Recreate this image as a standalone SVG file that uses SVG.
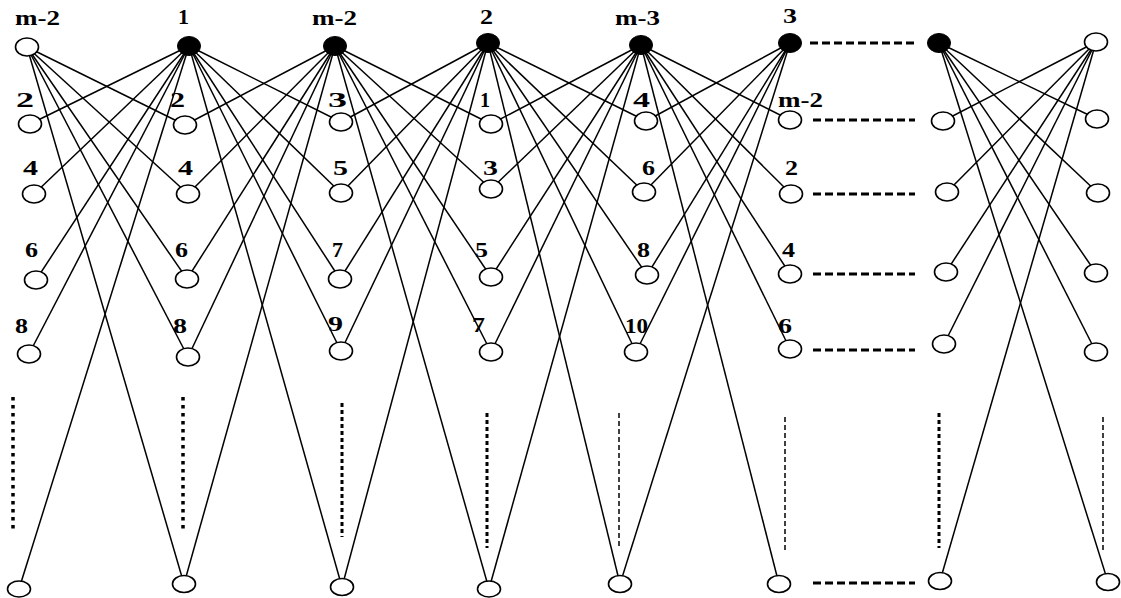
<svg xmlns="http://www.w3.org/2000/svg" width="1121" height="598" viewBox="0 0 1121 598">
<style>
.e{stroke:#000;stroke-width:1.5;fill:none}
.o{fill:#fff;stroke:#000;stroke-width:1.6}
.b{fill:#000;stroke:#000;stroke-width:1}
.l{font-family:"Liberation Serif","Times New Roman",serif;font-weight:bold;font-size:20px;fill:#000}
.hd{stroke:#000;stroke-width:3;stroke-dasharray:8 4;fill:none}
.vd{stroke:#000;stroke-width:3.5;stroke-dasharray:3.5 4.5;fill:none}
.vt{stroke:#000;stroke-width:3;stroke-dasharray:4 3;fill:none}
.vs{stroke:#000;stroke-width:1.5;stroke-dasharray:5 3;fill:none}
</style>
<rect width="1121" height="598" fill="#fff"/>
<g id="connectors">
<line class="e" x1="27" y1="47" x2="185" y2="125"/>
<line class="e" x1="27" y1="47" x2="188" y2="194"/>
<line class="e" x1="27" y1="47" x2="187" y2="279"/>
<line class="e" x1="27" y1="47" x2="188" y2="357"/>
<line class="e" x1="27" y1="47" x2="184" y2="584"/>
<line class="e" x1="189" y1="46" x2="30" y2="124"/>
<line class="e" x1="189" y1="46" x2="34" y2="194"/>
<line class="e" x1="189" y1="46" x2="36" y2="280"/>
<line class="e" x1="189" y1="46" x2="29" y2="354"/>
<line class="e" x1="189" y1="46" x2="19" y2="589"/>
<line class="e" x1="189" y1="46" x2="341" y2="122"/>
<line class="e" x1="189" y1="46" x2="341" y2="193"/>
<line class="e" x1="189" y1="46" x2="340" y2="279"/>
<line class="e" x1="189" y1="46" x2="341" y2="351"/>
<line class="e" x1="189" y1="46" x2="342" y2="587"/>
<line class="e" x1="335" y1="46" x2="185" y2="125"/>
<line class="e" x1="335" y1="46" x2="188" y2="194"/>
<line class="e" x1="335" y1="46" x2="187" y2="279"/>
<line class="e" x1="335" y1="46" x2="188" y2="357"/>
<line class="e" x1="335" y1="46" x2="184" y2="584"/>
<line class="e" x1="335" y1="46" x2="491" y2="124"/>
<line class="e" x1="335" y1="46" x2="491" y2="189"/>
<line class="e" x1="335" y1="46" x2="491" y2="277"/>
<line class="e" x1="335" y1="46" x2="491" y2="352"/>
<line class="e" x1="335" y1="46" x2="489" y2="589"/>
<line class="e" x1="488" y1="43" x2="341" y2="122"/>
<line class="e" x1="488" y1="43" x2="341" y2="193"/>
<line class="e" x1="488" y1="43" x2="340" y2="279"/>
<line class="e" x1="488" y1="43" x2="341" y2="351"/>
<line class="e" x1="488" y1="43" x2="342" y2="587"/>
<line class="e" x1="488" y1="43" x2="646" y2="121"/>
<line class="e" x1="488" y1="43" x2="644" y2="192"/>
<line class="e" x1="488" y1="43" x2="647" y2="275"/>
<line class="e" x1="488" y1="43" x2="636" y2="352"/>
<line class="e" x1="488" y1="43" x2="620" y2="584"/>
<line class="e" x1="641" y1="45" x2="491" y2="124"/>
<line class="e" x1="641" y1="45" x2="491" y2="189"/>
<line class="e" x1="641" y1="45" x2="491" y2="277"/>
<line class="e" x1="641" y1="45" x2="491" y2="352"/>
<line class="e" x1="641" y1="45" x2="489" y2="589"/>
<line class="e" x1="641" y1="45" x2="790" y2="120"/>
<line class="e" x1="641" y1="45" x2="791" y2="194"/>
<line class="e" x1="641" y1="45" x2="790" y2="274"/>
<line class="e" x1="641" y1="45" x2="790" y2="349"/>
<line class="e" x1="641" y1="45" x2="779" y2="584"/>
<line class="e" x1="790" y1="43" x2="646" y2="121"/>
<line class="e" x1="790" y1="43" x2="644" y2="192"/>
<line class="e" x1="790" y1="43" x2="647" y2="275"/>
<line class="e" x1="790" y1="43" x2="636" y2="352"/>
<line class="e" x1="790" y1="43" x2="620" y2="584"/>
<line class="e" x1="939" y1="43" x2="1097" y2="119"/>
<line class="e" x1="939" y1="43" x2="1098" y2="193"/>
<line class="e" x1="939" y1="43" x2="1096" y2="273"/>
<line class="e" x1="939" y1="43" x2="1096" y2="352"/>
<line class="e" x1="939" y1="43" x2="1108" y2="582"/>
<line class="e" x1="1096" y1="42" x2="943" y2="121"/>
<line class="e" x1="1096" y1="42" x2="947" y2="192"/>
<line class="e" x1="1096" y1="42" x2="946" y2="272"/>
<line class="e" x1="1096" y1="42" x2="944" y2="344"/>
<line class="e" x1="1096" y1="42" x2="940" y2="581"/>
<line class="hd" x1="810" y1="43" x2="915" y2="43"/>
<line class="hd" x1="813" y1="120" x2="915" y2="120"/>
<line class="hd" x1="813" y1="194" x2="915" y2="194"/>
<line class="hd" x1="813" y1="274" x2="915" y2="274"/>
<line class="hd" x1="813" y1="350" x2="915" y2="350"/>
<line class="hd" x1="813" y1="583" x2="915" y2="583"/>
<line class="vd" x1="13" y1="397" x2="13" y2="530"/>
<line class="vd" x1="183" y1="397" x2="183" y2="530"/>
<line class="vt" x1="342" y1="403" x2="342" y2="537"/>
<line class="vt" x1="487" y1="413" x2="487" y2="548"/>
<line class="vs" x1="619" y1="413" x2="619" y2="548"/>
<line class="vs" x1="785" y1="417" x2="785" y2="553"/>
<line class="vt" x1="939" y1="413" x2="939" y2="548"/>
<line class="vs" x1="1103" y1="417" x2="1103" y2="553"/>
</g>
<g id="col0">
<g id="n0t"><ellipse class="o" cx="27" cy="47" rx="11.5" ry="9"/><text class="l" x="15" y="25" textLength="45" lengthAdjust="spacingAndGlyphs">m-2</text></g>
<g id="n0r1"><ellipse class="o" cx="30" cy="124" rx="11.5" ry="9"/><text class="l" x="16" y="107" textLength="18" lengthAdjust="spacingAndGlyphs">2</text></g>
<g id="n0r2"><ellipse class="o" cx="34" cy="194" rx="11.5" ry="9"/><text class="l" x="23" y="175" textLength="15" lengthAdjust="spacingAndGlyphs">4</text></g>
<g id="n0r3"><ellipse class="o" cx="36" cy="280" rx="11.5" ry="9"/><text class="l" x="25" y="257" textLength="13" lengthAdjust="spacingAndGlyphs">6</text></g>
<g id="n0r4"><ellipse class="o" cx="29" cy="354" rx="11.5" ry="9"/><text class="l" x="15" y="333" textLength="13" lengthAdjust="spacingAndGlyphs">8</text></g>
<g id="n0b"><ellipse class="o" cx="19" cy="589" rx="11.5" ry="8"/></g>
</g>
<g id="col1">
<g id="n1t"><ellipse class="b" cx="189" cy="46" rx="11.5" ry="9.5"/><text class="l" x="178" y="24" textLength="11" lengthAdjust="spacingAndGlyphs">1</text></g>
<g id="n1r1"><ellipse class="o" cx="185" cy="125" rx="11.5" ry="9"/><text class="l" x="170" y="107" textLength="15" lengthAdjust="spacingAndGlyphs">2</text></g>
<g id="n1r2"><ellipse class="o" cx="188" cy="194" rx="11.5" ry="9"/><text class="l" x="178" y="175" textLength="15" lengthAdjust="spacingAndGlyphs">4</text></g>
<g id="n1r3"><ellipse class="o" cx="187" cy="279" rx="11.5" ry="9"/><text class="l" x="175" y="257" textLength="13" lengthAdjust="spacingAndGlyphs">6</text></g>
<g id="n1r4"><ellipse class="o" cx="188" cy="357" rx="11.5" ry="9"/><text class="l" x="173" y="333" textLength="14" lengthAdjust="spacingAndGlyphs">8</text></g>
<g id="n1b"><ellipse class="o" cx="184" cy="584" rx="11.5" ry="8.5"/></g>
</g>
<g id="col2">
<g id="n2t"><ellipse class="b" cx="335" cy="46" rx="11.5" ry="9.5"/><text class="l" x="312" y="25" textLength="45" lengthAdjust="spacingAndGlyphs">m-2</text></g>
<g id="n2r1"><ellipse class="o" cx="341" cy="122" rx="11.5" ry="9"/><text class="l" x="328" y="107" textLength="19" lengthAdjust="spacingAndGlyphs">3</text></g>
<g id="n2r2"><ellipse class="o" cx="341" cy="193" rx="11.5" ry="9"/><text class="l" x="333" y="175" textLength="15" lengthAdjust="spacingAndGlyphs">5</text></g>
<g id="n2r3"><ellipse class="o" cx="340" cy="279" rx="11.5" ry="9"/><text class="l" x="332" y="257" textLength="11" lengthAdjust="spacingAndGlyphs">7</text></g>
<g id="n2r4"><ellipse class="o" cx="341" cy="351" rx="11.5" ry="9"/><text class="l" x="328" y="331" textLength="15" lengthAdjust="spacingAndGlyphs">9</text></g>
<g id="n2b"><ellipse class="o" cx="342" cy="587" rx="11.5" ry="8.5"/></g>
</g>
<g id="col3">
<g id="n3t"><ellipse class="b" cx="488" cy="43" rx="11.5" ry="9.5"/><text class="l" x="480" y="24" textLength="13" lengthAdjust="spacingAndGlyphs">2</text></g>
<g id="n3r1"><ellipse class="o" cx="491" cy="124" rx="11.5" ry="9"/><text class="l" x="480" y="107" textLength="10" lengthAdjust="spacingAndGlyphs">1</text></g>
<g id="n3r2"><ellipse class="o" cx="491" cy="189" rx="11.5" ry="9"/><text class="l" x="483" y="175" textLength="15" lengthAdjust="spacingAndGlyphs">3</text></g>
<g id="n3r3"><ellipse class="o" cx="491" cy="277" rx="11.5" ry="9"/><text class="l" x="475" y="257" textLength="13" lengthAdjust="spacingAndGlyphs">5</text></g>
<g id="n3r4"><ellipse class="o" cx="491" cy="352" rx="11.5" ry="9"/><text class="l" x="472" y="332" textLength="13" lengthAdjust="spacingAndGlyphs">7</text></g>
<g id="n3b"><ellipse class="o" cx="489" cy="589" rx="11.5" ry="8"/></g>
</g>
<g id="col4">
<g id="n4t"><ellipse class="b" cx="641" cy="45" rx="11.5" ry="9.5"/><text class="l" x="615" y="25" textLength="45" lengthAdjust="spacingAndGlyphs">m-3</text></g>
<g id="n4r1"><ellipse class="o" cx="646" cy="121" rx="11.5" ry="9"/><text class="l" x="633" y="107" textLength="17" lengthAdjust="spacingAndGlyphs">4</text></g>
<g id="n4r2"><ellipse class="o" cx="644" cy="192" rx="11.5" ry="9"/><text class="l" x="642" y="175" textLength="13" lengthAdjust="spacingAndGlyphs">6</text></g>
<g id="n4r3"><ellipse class="o" cx="647" cy="275" rx="11.5" ry="9"/><text class="l" x="637" y="257" textLength="13" lengthAdjust="spacingAndGlyphs">8</text></g>
<g id="n4r4"><ellipse class="o" cx="636" cy="352" rx="11.5" ry="9"/><text class="l" x="625" y="333" textLength="23" lengthAdjust="spacingAndGlyphs">10</text></g>
<g id="n4b"><ellipse class="o" cx="620" cy="584" rx="11.5" ry="8.5"/></g>
</g>
<g id="col5">
<g id="n5t"><ellipse class="b" cx="790" cy="43" rx="11.5" ry="9.5"/><text class="l" x="783" y="23" textLength="14" lengthAdjust="spacingAndGlyphs">3</text></g>
<g id="n5r1"><ellipse class="o" cx="790" cy="120" rx="11.5" ry="9"/><text class="l" x="778" y="107" textLength="45" lengthAdjust="spacingAndGlyphs">m-2</text></g>
<g id="n5r2"><ellipse class="o" cx="791" cy="194" rx="11.5" ry="9"/><text class="l" x="785" y="175" textLength="13" lengthAdjust="spacingAndGlyphs">2</text></g>
<g id="n5r3"><ellipse class="o" cx="790" cy="274" rx="11.5" ry="9"/><text class="l" x="782" y="257" textLength="13" lengthAdjust="spacingAndGlyphs">4</text></g>
<g id="n5r4"><ellipse class="o" cx="790" cy="349" rx="11.5" ry="9"/><text class="l" x="778" y="333" textLength="14" lengthAdjust="spacingAndGlyphs">6</text></g>
<g id="n5b"><ellipse class="o" cx="779" cy="584" rx="11.5" ry="8.5"/></g>
</g>
<g id="col6">
<g id="n6t"><ellipse class="b" cx="939" cy="43" rx="11.5" ry="9.5"/></g>
<g id="n6r1"><ellipse class="o" cx="943" cy="121" rx="11.5" ry="9"/></g>
<g id="n6r2"><ellipse class="o" cx="947" cy="192" rx="11.5" ry="9"/></g>
<g id="n6r3"><ellipse class="o" cx="946" cy="272" rx="11.5" ry="9"/></g>
<g id="n6r4"><ellipse class="o" cx="944" cy="344" rx="11.5" ry="9"/></g>
<g id="n6b"><ellipse class="o" cx="940" cy="581" rx="11.5" ry="8.5"/></g>
</g>
<g id="col7">
<g id="n7t"><ellipse class="o" cx="1096" cy="42" rx="11.5" ry="9"/></g>
<g id="n7r1"><ellipse class="o" cx="1097" cy="119" rx="11.5" ry="9"/></g>
<g id="n7r2"><ellipse class="o" cx="1098" cy="193" rx="11.5" ry="9"/></g>
<g id="n7r3"><ellipse class="o" cx="1096" cy="273" rx="11.5" ry="9"/></g>
<g id="n7r4"><ellipse class="o" cx="1096" cy="352" rx="11.5" ry="9"/></g>
<g id="n7b"><ellipse class="o" cx="1108" cy="582" rx="11.5" ry="8.5"/></g>
</g>
</svg>
